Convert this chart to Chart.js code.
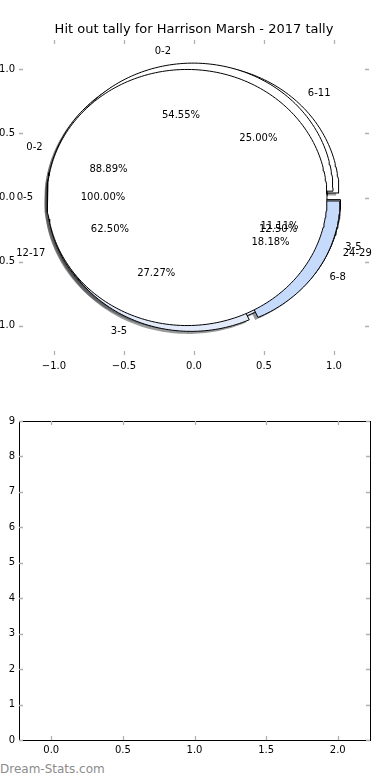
<!DOCTYPE html>
<html>
<head>
<meta charset="utf-8">
<title>Hit out tally - Harrison Marsh</title>
<script src="https://cdn.jsdelivr.net/npm/chart.js@4.4.0/dist/chart.umd.min.js"></script>
<style>
    html, body { margin: 0; padding: 0; background: #fff; width: 390px; height: 780px; overflow: hidden; position: relative; }
    #pie { position: absolute; left: -11px; top: 0; }
    #lower { position: absolute; left: -11px; top: 400px; }
    #mark { position: absolute; left: 0; top: 762px; font: 12px "DejaVu Sans", sans-serif; color: #8c8c8c; }
</style>
</head>
<body>
<canvas id="pie" width="410" height="375"></canvas>
<canvas id="lower" width="400" height="360"></canvas>
<div id="mark">Dream-Stats.com</div>
<script>

// the four tallies, in the order they get painted (last one ends up on top)
const tallyD_labels = ["6-11", "12-17", "24-29"];
const tallyD_values = [25.00, 62.50, 12.50];
const tallyB_labels = ["0-2", "3-5"];
const tallyB_values = [88.89, 11.11];
const tallyC_labels = ["0-2", "3-5", "6-8"];
const tallyC_values = [54.55, 27.27, 18.18];
const tallyA_labels = ["0-5"];
const tallyA_values = [100.00];

const pieTitle = "Hit out tally for Harrison Marsh - 2017 tally";
const pieTicks = [-1.0, -0.5, 0.0, 0.5, 1.0];
const lowerXTicks = [0.0, 0.5, 1.0, 1.5, 2.0];
const lowerYTicks = [0, 1, 2, 3, 4, 5, 6, 7, 8, 9];
const lowerValues = [];

const wedgeColours = ["#ffffff", "#e3ebfb", "#c6dafc"];

const EXPLODE = 0.05;
const SHADOW_DX = -0.02, SHADOW_DY = -0.02;
const FONT = "DejaVu Sans";

function shadowOf(hex) {
    let r = parseInt(hex.substr(1, 2), 16), g = parseInt(hex.substr(3, 2), 16), b = parseInt(hex.substr(5, 2), 16);
    return `rgba(${Math.round(r * 0.3)}, ${Math.round(g * 0.3)}, ${Math.round(b * 0.3)}, 0.55)`;
}

function buildWedges(labels, values) {
    let total = values.reduce((s, v) => s + v, 0);
    let start = 0;
    let wedges = [];
    values.forEach((v, i) => {
        let a1 = start;
        let a2 = start + 360 * v / total;
        start = a2;
        let mid = (a1 + a2) / 2 * Math.PI / 180;
        let cx = EXPLODE * Math.cos(mid);
        let cy = EXPLODE * Math.sin(mid);
        let full = (a2 - a1) > 359.999;
        let pts = [];
        if (!full) pts.push({x: cx, y: cy});
        let steps = Math.ceil((a2 - a1) / 1.5) + 1;
        for (let k = 0; k <= steps; k++) {
            let t = (a1 + (a2 - a1) * k / steps) * Math.PI / 180;
            pts.push({x: cx + Math.cos(t), y: cy + Math.sin(t)});
        }
        if (!full) pts.push({x: cx, y: cy});
        wedges.push({
            pts: pts, mid: mid, cx: cx, cy: cy,
            label: labels[i],
            pct: (100 * v / total).toFixed(2) + "%",
            colour: wedgeColours[i % wedgeColours.length]
        });
    });
    return wedges;
}

const tallies = [
    buildWedges(tallyD_labels, tallyD_values),
    buildWedges(tallyB_labels, tallyB_values),
    buildWedges(tallyC_labels, tallyC_values),
    buildWedges(tallyA_labels, tallyA_values)
];

let pieSets = [];
let seq = 0;
tallies.forEach(wedges => {
    wedges.forEach(w => {
        pieSets.push({
            data: w.pts.map(q => ({x: q.x + SHADOW_DX, y: q.y + SHADOW_DY})),
            backgroundColor: shadowOf(w.colour),
            borderColor: "rgba(0,0,0,0)",
            borderWidth: 0,
            fill: "shape",
            order: 1000 - seq
        });
        pieSets.push({
            data: w.pts,
            backgroundColor: w.colour,
            borderColor: "#000",
            borderWidth: 1,
            fill: "shape",
            order: 500 - seq
        });
        seq++;
    });
});

function tickText(v) {
    return (v < 0 ? "\u2212" : "") + Math.abs(v).toFixed(1);
}

// matplotlib style ticks: small grey marks pointing inwards on every side
const innerTicks = {
    id: "innerTicks",
    afterDraw(chart, args, opts) {
        const {ctx, chartArea: a, scales} = chart;
        ctx.save();
        if (opts.frame) {
            ctx.strokeStyle = "#000";
            ctx.lineWidth = 1;
            ctx.strokeRect(Math.round(a.left) + 0.5, Math.round(a.top) + 0.5, Math.round(a.right - a.left), Math.round(a.bottom - a.top));
        }
        ctx.strokeStyle = "#b0b0b0";
        ctx.lineWidth = 1.3;
        ctx.beginPath();
        scales.x.ticks.forEach(t => {
            let px = Math.round(scales.x.getPixelForValue(t.value)) + 0.5;
            ctx.moveTo(px, a.top); ctx.lineTo(px, a.top + 4);
            ctx.moveTo(px, a.bottom); ctx.lineTo(px, a.bottom - 4);
        });
        scales.y.ticks.forEach(t => {
            let py = Math.round(scales.y.getPixelForValue(t.value)) + 0.5;
            ctx.moveTo(a.left, py); ctx.lineTo(a.left + 4, py);
            ctx.moveTo(a.right, py); ctx.lineTo(a.right - 4, py);
        });
        ctx.stroke();
        if (opts.title) {
            ctx.font = "13px " + FONT;
            ctx.fillStyle = "#000";
            ctx.textAlign = "center";
            ctx.textBaseline = "middle";
            ctx.fillText(opts.title, (a.left + a.right) / 2, a.top - 10);
        }
        ctx.restore();
    }
};

// wedge names at 1.1 and percentages at 0.6 of the radius, like matplotlib's pie
const pieText = {
    id: "pieText",
    afterDatasetsDraw(chart) {
        const {ctx, scales} = chart;
        ctx.save();
        ctx.font = "10px " + FONT;
        ctx.fillStyle = "#000";
        ctx.textBaseline = "middle";
        tallies.forEach(wedges => {
            wedges.forEach(w => {
                let lx = w.cx + 1.1 * Math.cos(w.mid);
                let ly = w.cy + 1.1 * Math.sin(w.mid);
                ctx.textAlign = lx > 0 ? "left" : "right";
                ctx.fillText(w.label, scales.x.getPixelForValue(lx), scales.y.getPixelForValue(ly));
                let px = w.cx + 0.6 * Math.cos(w.mid);
                let py = w.cy + 0.6 * Math.sin(w.mid);
                ctx.textAlign = "center";
                ctx.fillText(w.pct, scales.x.getPixelForValue(px), scales.y.getPixelForValue(py));
            });
        });
        ctx.restore();
    }
};

Chart.defaults.font.family = FONT;
Chart.defaults.color = "#000";

new Chart(document.getElementById("pie"), {
    type: "line",
    data: { datasets: pieSets },
    options: {
        responsive: false,
        animation: false,
        events: [],
        layout: { padding: { left: 0, right: 30, top: 40, bottom: 0 } },
        elements: { point: { radius: 0 }, line: { tension: 0 } },
        plugins: {
            legend: { display: false },
            tooltip: { enabled: false },
            title: { display: false },
            innerTicks: { frame: false, title: pieTitle }
        },
        scales: {
            x: {
                type: "linear", min: -1.25, max: 1.25,
                grid: { display: false, drawTicks: false }, border: { display: false },
                afterBuildTicks: axis => { axis.ticks = pieTicks.map(v => ({value: v})); },
                afterFit: axis => { axis.height = 20; },
                ticks: { font: { size: 10 }, padding: 5, maxRotation: 0, callback: v => tickText(v) }
            },
            y: {
                type: "linear", min: -1.23, max: 1.23,
                grid: { display: false, drawTicks: false }, border: { display: false },
                afterBuildTicks: axis => { axis.ticks = pieTicks.map(v => ({value: v})); },
                afterFit: axis => { axis.width = 30; },
                ticks: { font: { size: 10 }, padding: 4, callback: v => tickText(v) }
            }
        }
    },
    plugins: [innerTicks, pieText]
});

new Chart(document.getElementById("lower"), {
    type: "line",
    data: { datasets: [{ data: lowerValues }] },
    options: {
        responsive: false,
        animation: false,
        events: [],
        layout: { padding: { left: 0, right: 19, top: 21, bottom: 0 } },
        plugins: {
            legend: { display: false },
            tooltip: { enabled: false },
            innerTicks: { frame: true }
        },
        scales: {
            x: {
                type: "linear", min: -0.225, max: 2.225,
                grid: { display: false, drawTicks: false }, border: { display: false },
                afterBuildTicks: axis => { axis.ticks = lowerXTicks.map(v => ({value: v})); },
                afterFit: axis => { axis.height = 20; },
                ticks: { font: { size: 10 }, padding: 4, maxRotation: 0, callback: v => v.toFixed(1) }
            },
            y: {
                type: "linear", min: 0, max: 9,
                grid: { display: false, drawTicks: false }, border: { display: false },
                afterBuildTicks: axis => { axis.ticks = lowerYTicks.map(v => ({value: v})); },
                afterFit: axis => { axis.width = 30; },
                ticks: { font: { size: 10 }, padding: 4, callback: v => String(v) }
            }
        }
    },
    plugins: [innerTicks]
});
</script>
</body>
</html>
